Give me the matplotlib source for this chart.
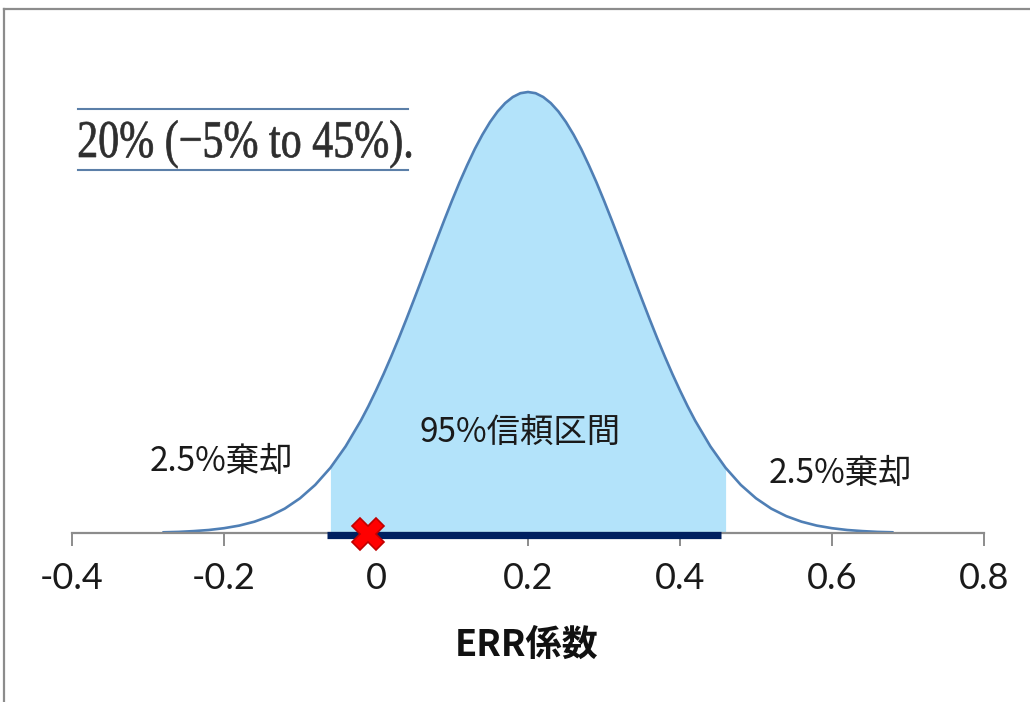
import matplotlib
matplotlib.use("Agg")
import matplotlib.pyplot as plt
from matplotlib.lines import Line2D
from matplotlib.textpath import TextPath
from matplotlib.patches import PathPatch
from matplotlib.font_manager import FontProperties
from matplotlib.transforms import Affine2D, IdentityTransform
import numpy as np

# curve: x from -0.28 to 0.20 (right half mirrors it)
half_x = [-0.28, -0.26, -0.24, -0.22, -0.20, -0.18, -0.16, -0.14, -0.12, -0.10,
          -0.08, -0.06, -0.04, -0.02, -0.01, 0.00, 0.01, 0.02, 0.03, 0.04,
          0.05, 0.06, 0.07, 0.08, 0.09, 0.10, 0.11, 0.12, 0.13, 0.14, 0.15,
          0.16, 0.17, 0.18, 0.19]
half_y = [0.7, 1.1, 1.9, 3.0, 4.8, 7.4, 11.3, 16.8, 24.4, 34.7,
          48.1, 65.2, 86.6, 112.3, 126.8, 142.5, 159.0, 176.5, 194.8, 213.9,
          233.5, 253.4, 273.5, 293.5, 313.2, 332.4, 350.8, 367.9, 384.0, 398.3, 410.9,
          421.5, 429.9, 436.0, 439.8]
peak_x = 0.20
peak_y = 441.0

curve_x = np.array(half_x + [peak_x] + [round(2 * peak_x - v, 2) for v in half_x[::-1]])
curve_y = np.array(half_y + [peak_y] + half_y[::-1])

ci_low, ci_high = -0.06, 0.46
bar_low, bar_high = -0.064, 0.454
null_value = -0.01

tick_vals = [-0.4, -0.2, 0, 0.2, 0.4, 0.6, 0.8]
tick_labels = ["-0.4", "-0.2", "0", "0.2", "0.4", "0.6", "0.8"]

side_label = "2.5%棄却"
mid_label = "95%信頼区間"
x_title = "ERR係数"
quote_text = "20% (\u22125% to 45%)."

cjk = ["Noto Sans CJK JP", "DejaVu Sans"]

W, H = 1030, 702
fig = plt.figure(figsize=(W / 100, H / 100), dpi=100)
fig.patch.set_facecolor("white")

# axes placed so that y=0 sits at pixel row 533
ax = fig.add_axes([72 / W, (H - 533) / H, 912 / W, 453 / H])
ax.set_xlim(-0.4, 0.8)
ax.set_ylim(0, 453)

mask = (curve_x >= ci_low - 1e-9) & (curve_x <= ci_high + 1e-9)
ax.fill_between(curve_x, 0, curve_y, where=mask, color="#B3E3FA", lw=0, zorder=1)
ax.plot(curve_x, curve_y, color="#4F7FB5", lw=1.9, zorder=2,
        solid_capstyle="round", solid_joinstyle="round")

ax.plot([bar_low, bar_high], [-1.5, -1.5], color="#002060", lw=5.2,
        solid_capstyle="butt", zorder=4, clip_on=False)
ax.plot([null_value], [-1], marker="X", ms=23, mfc="#FF0000", mec="#C00000",
        mew=1.2, zorder=5, clip_on=False)

for s in ["left", "right", "top"]:
    ax.spines[s].set_visible(False)
ax.spines["bottom"].set_color("#8C8C8C")
ax.spines["bottom"].set_linewidth(1.6)
ax.set_yticks([])
ax.set_xticks(tick_vals)
ax.set_xticklabels(tick_labels, family=["Lato", "DejaVu Sans"], fontsize=26,
                   color="#1A1A1A")
ax.tick_params(axis="x", direction="out", length=9, width=1.4, color="#8C8C8C",
               pad=12)
ax.patch.set_alpha(0)

# labels in the plot
fig.text(221 / W, 1 - 462 / H, side_label, family=cjk, fontsize=24,
         ha="center", va="center", color="#1A1A1A")
fig.text(840 / W, 1 - 473 / H, side_label, family=cjk, fontsize=24,
         ha="center", va="center", color="#1A1A1A")
fig.text(520 / W, 1 - 433 / H, mid_label, family=cjk, fontsize=24,
         ha="center", va="center", color="#1A1A1A")
fig.text(527 / W, 1 - 645 / H, x_title, family=cjk, fontsize=26,
         fontweight="bold", ha="center", va="center", color="#111111")

# quoted text box with rules above and below
fig.add_artist(Line2D([78 / W, 408 / W], [1 - 109 / H, 1 - 109 / H],
                      color="#5B7FA8", lw=1.5))
fig.add_artist(Line2D([78 / W, 408 / W], [1 - 170 / H, 1 - 170 / H],
                      color="#5B7FA8", lw=1.5))
# the quote in the reference is a squeezed scan, so draw it as a scaled path
tp = TextPath((0, 0), quote_text, size=53,
              prop=FontProperties(family=["Liberation Serif", "DejaVu Serif"]))
ext = tp.get_extents()
sx = 332 / ext.width
qt = Affine2D().translate(-ext.x0, 0).scale(sx, 1).translate(79, H - 157)
fig.add_artist(PathPatch(tp, transform=qt + IdentityTransform(),
                         facecolor="#2E2E2E", edgecolor="#2E2E2E", lw=0.5))

# outer frame (left and top edges only visible)
fig.add_artist(Line2D([4 / W, 4 / W], [0, 1 - 9 / H], color="#8C8C8C", lw=1.6))
fig.add_artist(Line2D([4 / W, 1], [1 - 9 / H, 1 - 9 / H], color="#8C8C8C", lw=1.6))

fig.savefig("out.png", dpi=100, facecolor="white")
